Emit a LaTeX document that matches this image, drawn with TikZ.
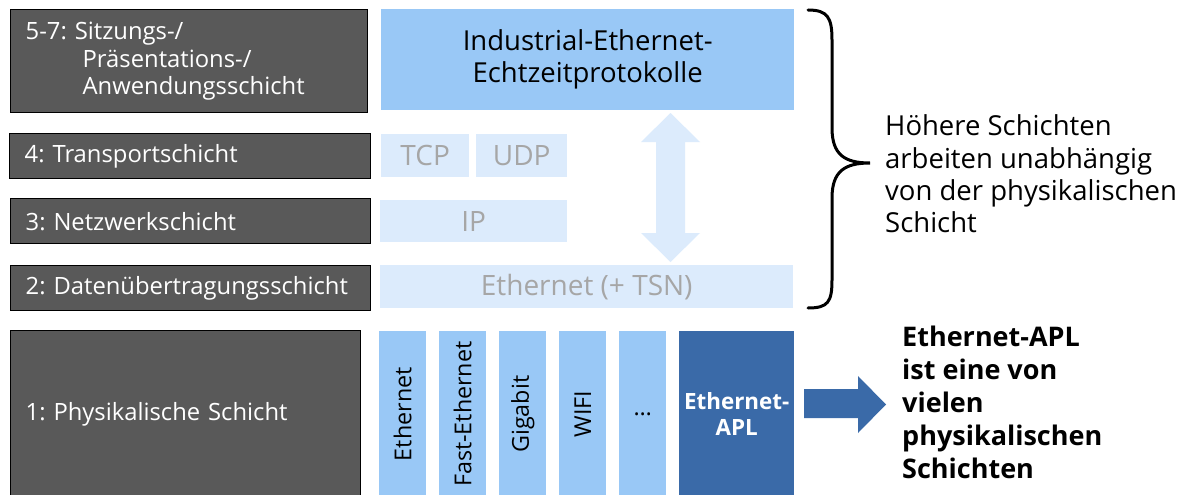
\documentclass[tikz,border=0pt]{standalone}
\usepackage{fontspec}
\setmainfont{Open Sans}
\definecolor{osigray}{HTML}{595959}
\definecolor{topblue}{HTML}{99C8F6}
\definecolor{lightblue}{HTML}{DCEBFC}
\definecolor{graytext}{HTML}{A6A6A6}
\definecolor{aplblue}{HTML}{3A6AA8}
\newcommand{\fsn}{\fontsize{23.8pt}{27.8pt}\selectfont}
\newcommand{\fsv}{\fontsize{23.3pt}{27.5pt}\selectfont}
\newcommand{\fsg}{\fontsize{28pt}{31pt}\selectfont}
\newcommand{\fst}{\fontsize{27.5pt}{32pt}\selectfont}
\newcommand{\fsr}{\fontsize{27.5pt}{32.3pt}\selectfont}
\newcommand{\fsb}{\fontsize{27pt}{33pt}\selectfont}
\newcommand{\fsa}{\fontsize{22.4pt}{26pt}\selectfont}
\begin{document}
\frenchspacing
\begin{tikzpicture}[x=1pt,y=-1pt,
  osi/.style={draw=black, line width=1.3pt, fill=osigray, text=white, align=left,
    anchor=north west, inner xsep=15pt, inner ysep=0pt, font=\fsn},
  upper/.style={fill=topblue, anchor=north west, inner sep=0pt, align=center, font=\fst},
  lite/.style={fill=lightblue, text=graytext, anchor=north west, inner sep=0pt, align=center, font=\fsg},
  bar/.style={fill=topblue, anchor=north west, inner sep=0pt, minimum width=47pt, minimum height=166pt, font=\fsv},
  aplbox/.style={fill=aplblue, text=white, anchor=north west, inner sep=0pt, align=center, font=\bfseries\fsa},
  note/.style={anchor=west, align=left, inner sep=0pt}
]
\useasboundingbox (0,0) rectangle (1184,495);
\fill[white] (0,0) rectangle (1184,495);

% left OSI layers
\node[osi, text width=327pt, minimum height=103pt] (l7) at (10,9)
  {5-7: Sitzungs-/\\\hspace*{57pt}Präsentations-/\\\hspace*{57pt}Anwendungsschicht};
\node[osi, text width=331pt, minimum height=45pt] (l4) at (9,133) {4: Transportschicht};
\node[osi, text width=330pt, minimum height=45pt] (l3) at (10,198) {3: Netzwerkschicht};
\node[osi, text width=330pt, minimum height=45pt] (l2) at (10,265) {2: Datenübertragungsschicht};
\node[osi, text width=320pt, minimum height=168pt] (l1) at (10,330) {1: Physikalische Schicht};

% middle protocols
\node[upper, minimum width=413pt, minimum height=101pt] (iep) at (381,9)
  {Industrial-Ethernet-\\Echtzeitprotokolle};
\node[lite, minimum width=88pt, minimum height=43pt] (tcp) at (381,134) {TCP};
\node[lite, minimum width=91pt, minimum height=43pt] (udp) at (476,134) {UDP};
\node[lite, minimum width=187pt, minimum height=42pt] (ip) at (380,200) {IP};
\node[lite, minimum width=413pt, minimum height=43pt] (eth) at (380,265) {Ethernet (+ TSN)};

% double arrow
\fill[lightblue] (670.5,113) -- (700,142) -- (685,142) -- (685,233) -- (700,233)
  -- (670.5,262) -- (641,233) -- (656,233) -- (656,142) -- (641,142) -- cycle;

% physical layer bars
\node[bar, label={[rotate=90, font=\fsv]center:Ethernet}] (b1) at (379,331) {};
\node[bar, label={[rotate=90, font=\fsv]center:Fast-Ethernet}] (b2) at (439,331) {};
\node[bar, label={[rotate=90, font=\fsv]center:Gigabit}] (b3) at (499,331) {};
\node[bar, label={[rotate=90, font=\fsv]center:WIFI}] (b4) at (559,331) {};
\node[bar] (b5) at (619,331) {…};
\node[aplbox, minimum width=115pt, minimum height=166pt] (apl) at (679,331) {Ethernet-\\APL};

% block arrow
\fill[aplblue] (804,389) -- (858,389) -- (858,376) -- (886,404.5) -- (858,433)
  -- (858,418) -- (804,418) -- cycle;

% brace
\draw[line width=3pt, line cap=round] (808,10) .. controls (828,10) and (832,18) .. (832,40)
  -- (832,128) .. controls (832,155) and (845,163) .. (870,163)
  .. controls (845,163) and (832,171) .. (832,198)
  -- (832,280) .. controls (832,302) and (828,308) .. (808,308);

% notes
\node[note, font=\fsr] (hs) at (885,174)
  {Höhere Schichten\\arbeiten unabhängig\\von der physikalischen\\Schicht};
\node[note, font=\bfseries\fsb] (ap) at (902,402)
  {Ethernet-APL\\ist eine von\\vielen\\physikalischen\\Schichten};
\end{tikzpicture}
\end{document}
